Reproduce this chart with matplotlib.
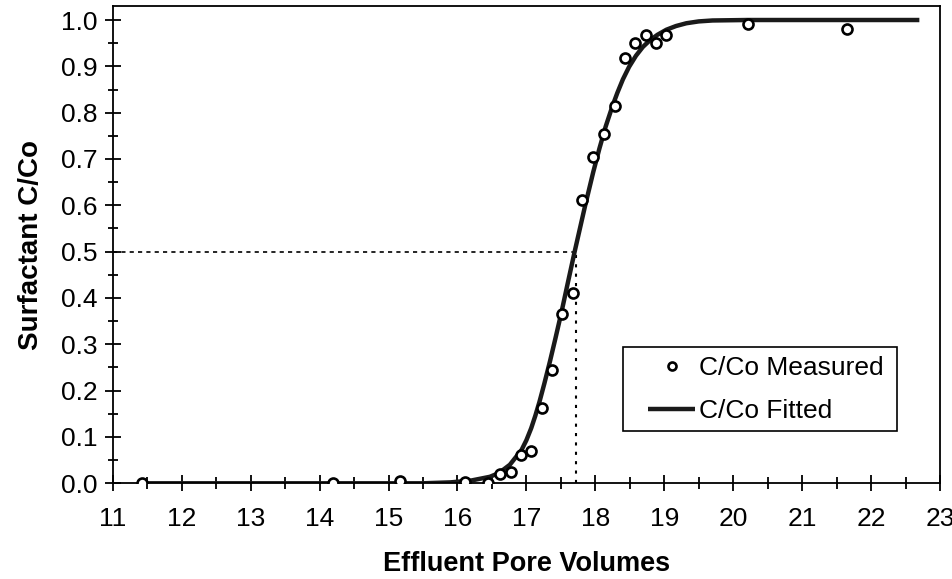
import matplotlib
matplotlib.use('Agg')
import matplotlib.pyplot as plt
from matplotlib.ticker import MultipleLocator
from matplotlib.patches import Rectangle

plt.rcParams['font.family'] = ['Liberation Sans', 'DejaVu Sans']

# measured surfactant breakthrough
measured_pv = [11.42, 14.20, 15.16, 16.11, 16.44, 16.62, 16.77, 16.92, 17.06,
               17.22, 17.37, 17.52, 17.67, 17.81, 17.97, 18.12, 18.28, 18.43,
               18.58, 18.73, 18.88, 19.03, 20.21, 21.65]
measured_c = [0.0, 0.0, 0.004, 0.003, 0.001, 0.019, 0.025, 0.061, 0.070,
              0.162, 0.245, 0.365, 0.411, 0.611, 0.704, 0.754, 0.815, 0.919,
              0.951, 0.968, 0.951, 0.968, 0.991, 0.981]

# fitted breakthrough curve
fitted_pv = [11.44, 15.5, 15.9, 16.2, 16.47, 16.6, 16.76, 16.93, 17.00, 17.07,
             17.13, 17.19, 17.26, 17.34, 17.42, 17.51, 17.60, 17.70, 17.85,
             17.97, 18.06, 18.15, 18.25, 18.32, 18.40, 18.49, 18.59, 18.69,
             18.79, 18.90, 19.03, 19.17, 19.32, 19.50, 19.70, 20.20, 22.70]
fitted_c = [0.0, 0.0, 0.002, 0.006, 0.014, 0.022, 0.040, 0.072, 0.093, 0.119,
            0.146, 0.176, 0.215, 0.262, 0.312, 0.370, 0.432, 0.500, 0.598,
            0.672, 0.723, 0.770, 0.815, 0.843, 0.872, 0.899, 0.923, 0.942,
            0.956, 0.968, 0.979, 0.987, 0.993, 0.997, 0.999, 1.0, 1.0]

half_pv = 17.72
half_c = 0.5

fig = plt.figure(figsize=(9.53, 5.79), dpi=100)
ax = fig.add_axes([0.1183, 0.1653, 0.8681, 0.8243])

ax.plot([11, half_pv], [half_c, half_c], color='black', lw=1.2,
        linestyle=(0, (2.5, 2.5)), zorder=1)
ax.plot([half_pv, half_pv], [0, half_c], color='black', lw=1.5,
        linestyle=(0, (1.5, 3)), zorder=1)

ax.plot(fitted_pv, fitted_c, color='#1a1a1a', lw=3.2, solid_capstyle='butt',
        label='C/Co Fitted', zorder=2)
ax.plot(measured_pv, measured_c, linestyle='none', marker='o', ms=7.2,
        mfc='white', mec='black', mew=1.9, label='C/Co Measured', zorder=3)

ax.set_xlim(11, 23)
ax.set_ylim(0, 1.0302)
ax.xaxis.set_major_locator(MultipleLocator(1))
ax.xaxis.set_minor_locator(MultipleLocator(0.5))
ax.yaxis.set_minor_locator(MultipleLocator(0.05))
ax.set_yticks([i / 10 for i in range(11)])
ax.set_yticklabels(['%.1f' % (i / 10) for i in range(11)])

ax.tick_params(axis='both', which='both', direction='inout', width=1.3,
               color='black')
ax.tick_params(axis='both', which='major', labelsize=19)
ax.tick_params(axis='x', which='major', length=11.5, pad=11)
ax.tick_params(axis='x', which='minor', length=9)
ax.tick_params(axis='y', which='major', length=11, pad=5.5)
ax.tick_params(axis='y', which='minor', length=7)

for side in ['left', 'bottom', 'right', 'top']:
    ax.spines[side].set_linewidth(1.3)
    ax.spines[side].set_color('black')

ax.set_xlabel('Effluent Pore Volumes', fontsize=19.5, fontweight='bold',
              labelpad=15)
ax.set_ylabel('Surfactant C/Co', fontsize=20, fontweight='bold', labelpad=12)

handles, labels = ax.get_legend_handles_labels()
leg = ax.legend(handles[::-1], labels[::-1], loc='upper left',
                bbox_to_anchor=(648 / 953, 1 - 356 / 579),
                bbox_transform=fig.transFigure, fontsize=19, frameon=False,
                handlelength=1.8, handletextpad=0.12, labelspacing=0.72,
                borderpad=0, borderaxespad=0, markerscale=0.8)

# legend box
fig.patches.append(Rectangle((623 / 953, 1 - 431 / 579), 274 / 953, 84 / 579,
                             transform=fig.transFigure, fill=False,
                             edgecolor='black', lw=1.2))

fig.savefig('out.png', dpi=100)
